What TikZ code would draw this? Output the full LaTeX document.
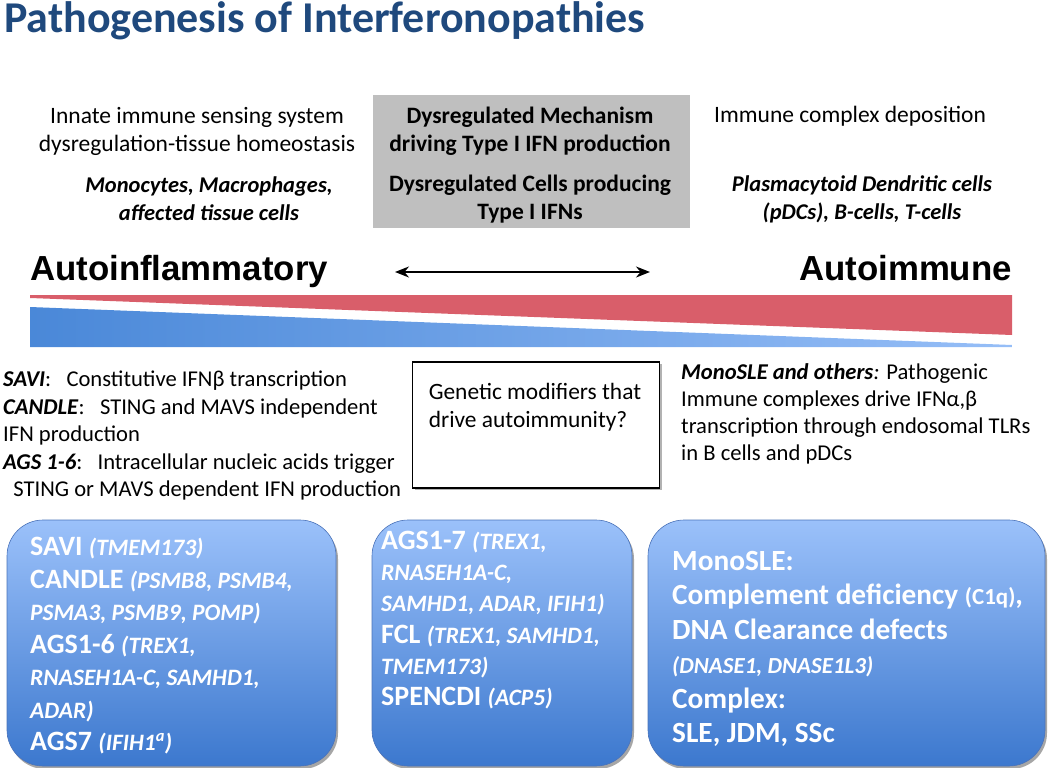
\documentclass[tikz,border=0pt]{standalone}
\usepackage{fontspec}
\setmainfont{Carlito}
\newfontfamily\arialfont{Liberation Sans}
\usetikzlibrary{shadows,arrows.meta}
\definecolor{titleblue}{RGB}{31,73,125}
\definecolor{graybox}{RGB}{191,191,191}
\definecolor{wedgered}{RGB}{217,94,106}
\definecolor{wedgeblueL}{RGB}{74,136,216}
\definecolor{wedgeblueR}{RGB}{150,190,247}
\definecolor{boxtop}{RGB}{155,193,250}
\definecolor{boxbot}{RGB}{60,120,206}
\definecolor{boxedge}{RGB}{75,115,185}
\newcommand\gn[1]{{\fontsize{23.5}{\the\baselineskip}\selectfont\itshape #1}}
\newcommand\bi[1]{\textbf{\textit{#1}}}
\tikzset{
  body/.style={inner sep=0pt, font=\fontsize{23.5}{28}\selectfont},
  bodybold/.style={inner sep=0pt, font=\bfseries\fontsize{23.5}{28}\selectfont},
  bodybi/.style={inner sep=0pt, font=\bfseries\itshape\fontsize{22.5}{28}\selectfont},
  bigword/.style={inner sep=0pt, font=\arialfont\bfseries\fontsize{34.8}{40}\selectfont},
  bluebox/.style={rounded corners=36pt, top color=boxtop, bottom color=boxbot,
    draw=boxedge, line width=0.6pt,
    drop shadow={shadow xshift=2pt, shadow yshift=-3pt, opacity=0.35, fill=black}},
  boxtext/.style={inner sep=0pt, text=white, align=left, font=\bfseries\fontsize{28}{32.5}\selectfont},
}
\begin{document}
\begin{tikzpicture}[x=1pt,y=-1pt]
\useasboundingbox (0,0) rectangle (1050,768);
% title
\node[anchor=base west, inner sep=0pt, text=titleblue, font=\bfseries\fontsize{44}{50}\selectfont] (title) at (4,33) {Pathogenesis of Interferonopathies};
% gray box
\fill[graybox] (373,95) rectangle (690,228);
\node[bodybold, align=center] (mech) at (530,131) {Dysregulated Mechanism\\driving Type I IFN production};
\node[bodybold, align=center] (cells) at (530,199) {Dysregulated Cells producing\\Type I IFNs};
% left texts
\node[body, align=center] (innate) at (197,131) {Innate immune sensing system\\dysregulation-tissue homeostasis};
\node[bodybi, align=center] (mono) at (209,199) {Monocytes, Macrophages,\\affected tissue cells};
% right texts
\node[body, anchor=west] (icd) at (714,116) {Immune complex deposition};
\node[bodybi, align=center] (pdc) at (862,199) {Plasmacytoid Dendritic cells\\(pDCs), B-cells, T-cells};
% big words and arrow
\node[bigword, anchor=base west] (ainf) at (30,280) {Autoinflammatory};
\node[bigword, anchor=base east] (aimm) at (1012,280) {Autoimmune};
\coordinate (al) at (395,272);
\coordinate (ar) at (650,272);
\draw[line width=1.8pt, {Stealth[length=14pt,width=11pt]}-{Stealth[length=14pt,width=11pt]}] (al) -- (ar);
% wedges
\fill[wedgered] (30,295) -- (1012,295) -- (1012,335) -- (30,298) -- cycle;
\shade[left color=wedgeblueL, right color=wedgeblueR] (30,307) -- (1012,345) -- (1012,347) -- (30,347) -- cycle;
% left bullets
\node[body, anchor=north west, align=left, font=\fontsize{22.6}{27.5}\selectfont] (lbul) at (3,371) {\bi{SAVI}:\ \ \ Constitutive IFNβ transcription\\
\bi{CANDLE}:\ \ \ STING and MAVS independent\\
IFN production\\
\bi{AGS 1-6}:\ \ \ Intracellular nucleic acids trigger\\
\ \ STING or MAVS dependent IFN production};
% genetic modifiers box
\node[draw, line width=1.8pt, minimum width=247pt, minimum height=126pt, inner sep=0pt, fill=white,
  drop shadow={shadow xshift=2pt, shadow yshift=-2pt, opacity=0.3, fill=black}] (gbox) at (536,425) {};
\node[body, anchor=north west, align=left, font=\fontsize{23.4}{28}\selectfont] (gtext) at ([shift={(17,22)}]gbox.north west) {Genetic modifiers that\\drive autoimmunity?};
% right bullets
\node[body, anchor=north west, align=left, font=\fontsize{22.6}{27}\selectfont] (rbul) at (681,363) {\bi{MonoSLE and others}\textit{:} Pathogenic\\
Immune complexes drive IFNα,β\\
transcription through endosomal TLRs\\
in B cells and pDCs};
% bottom boxes
\node[bluebox, minimum width=329pt, minimum height=246pt] (b1) at (171.5,643) {};
\node[bluebox, minimum width=260pt, minimum height=246pt] (b2) at (502,643) {};
\node[bluebox, minimum width=397pt, minimum height=246pt] (b3) at (846.5,643) {};
\node[boxtext, anchor=north west] (t1) at (30,537) {SAVI \gn{(TMEM173)}\\
CANDLE \gn{(PSMB8, PSMB4,}\\
\gn{PSMA3, PSMB9, POMP)}\\
AGS1-6 \gn{(TREX1,}\\
\gn{RNASEH1A-C, SAMHD1,}\\
\gn{ADAR)}\\
AGS7 \gn{(IFIH1\textsuperscript{a})}};
\node[boxtext, anchor=north west, font=\bfseries\fontsize{28}{31.2}\selectfont] (t2) at (381,531) {AGS1-7 \gn{(TREX1,}\\
\gn{RNASEH1A-C,}\\
\gn{SAMHD1, ADAR, IFIH1)}\\
FCL \gn{(TREX1, SAMHD1,}\\
\gn{TMEM173)}\\
SPENCDI \gn{(ACP5)}};
\node[boxtext, anchor=north west, font=\bfseries\fontsize{29.3}{34.4}\selectfont] (t3) at (672,551) {MonoSLE:\\
Complement deficiency {\fontsize{23}{34.4}\selectfont (C1q)},\\
DNA Clearance defects\\
{\fontsize{23}{34.4}\selectfont\itshape (DNASE1, DNASE1L3)}\\
Complex:\\
SLE, JDM, SSc};
\end{tikzpicture}
\end{document}
